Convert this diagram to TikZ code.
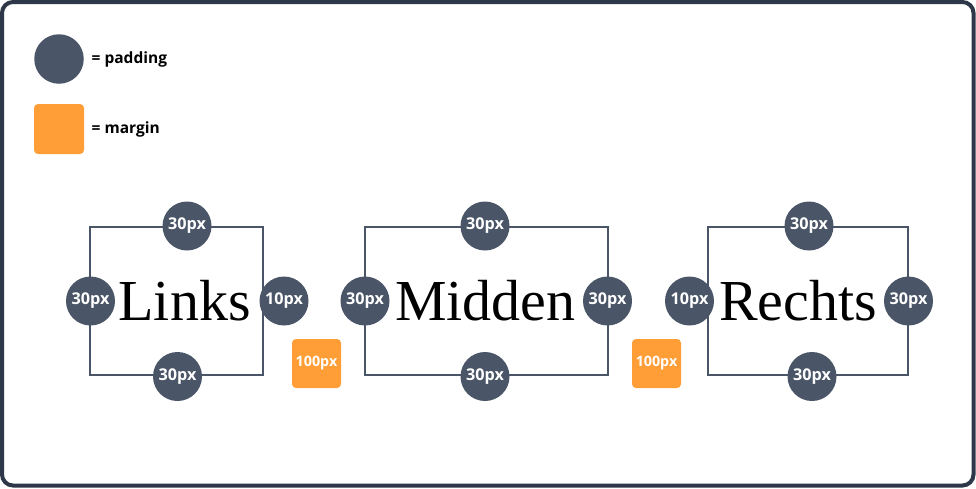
\documentclass[tikz,border=0pt]{standalone}
\usepackage{fontspec}
\setmainfont{Liberation Serif}
\newfontfamily\lblfont{Open Sans}
\definecolor{padc}{HTML}{4A5568}
\definecolor{margc}{HTML}{FF9E36}
\definecolor{framec}{HTML}{2D3748}
\begin{document}
\begin{tikzpicture}[x=1pt,y=-1pt,
  pad/.style={circle, fill=padc, minimum size=49pt, inner sep=0pt, text=white,
    font=\lblfont\bfseries\fontsize{16.2}{16.2}\selectfont},
  marg/.style={rectangle, rounded corners=4pt, fill=margc, minimum size=49pt, inner sep=0pt, text=white,
    font=\lblfont\bfseries\fontsize{14.3}{14.3}\selectfont},
  boxr/.style={rectangle, draw=padc, line width=2pt, inner sep=0pt},
  word/.style={anchor=base, inner sep=0pt, font=\fontsize{58}{58}\selectfont, text=black},
  legtext/.style={anchor=west, inner sep=0pt, text=black, font=\lblfont\bfseries\fontsize{15.5}{15.5}\selectfont}]
\useasboundingbox (0,0) rectangle (976,488);
\draw[framec, line width=4pt, rounded corners=11pt] (2,2) rectangle (973.5,485.5);

% legend
\node[pad, minimum size=49.5pt] (legpad) at (59,59) {};
\node[legtext] (legpadtxt) at (91.5,59.5) {= padding};
\node[marg, minimum size=50pt] (legmarg) at (59,129) {};
\node[legtext] (legmargtxt) at (91.5,129.5) {= margin};

% boxes
\node[boxr, minimum width=173pt, minimum height=148pt] (linksbox) at (176.5,301) {};
\node[boxr, minimum width=242.5pt, minimum height=148pt] (middenbox) at (486.25,301) {};
\node[boxr, minimum width=199.5pt, minimum height=148pt] (rechtsbox) at (807.75,301) {};

% words
\node[word] (links) at (184.5,320) {Links};
\node[word] (midden) at (485.5,320) {Midden};
\node[word] (rechts) at (798,320) {Rechts};

% padding circles
\node[pad] (lt) at (187,226) {30px};
\node[pad] (ll) at (90.5,301) {30px};
\node[pad] (lr) at (284,301) {10px};
\node[pad] (lb) at (177.5,376.5) {30px};

\node[pad] (mt) at (485,226) {30px};
\node[pad] (ml) at (365,301) {30px};
\node[pad] (mr) at (607.5,301) {30px};
\node[pad] (mb) at (485,376.5) {30px};

\node[pad] (rt) at (809,226) {30px};
\node[pad] (rl) at (689.5,301) {10px};
\node[pad] (rr) at (908.5,301) {30px};
\node[pad] (rb) at (812,376.5) {30px};

% margins
\node[marg] (m1) at (316.5,363.5) {100px};
\node[marg] (m2) at (656.5,363.5) {100px};
\end{tikzpicture}
\end{document}
